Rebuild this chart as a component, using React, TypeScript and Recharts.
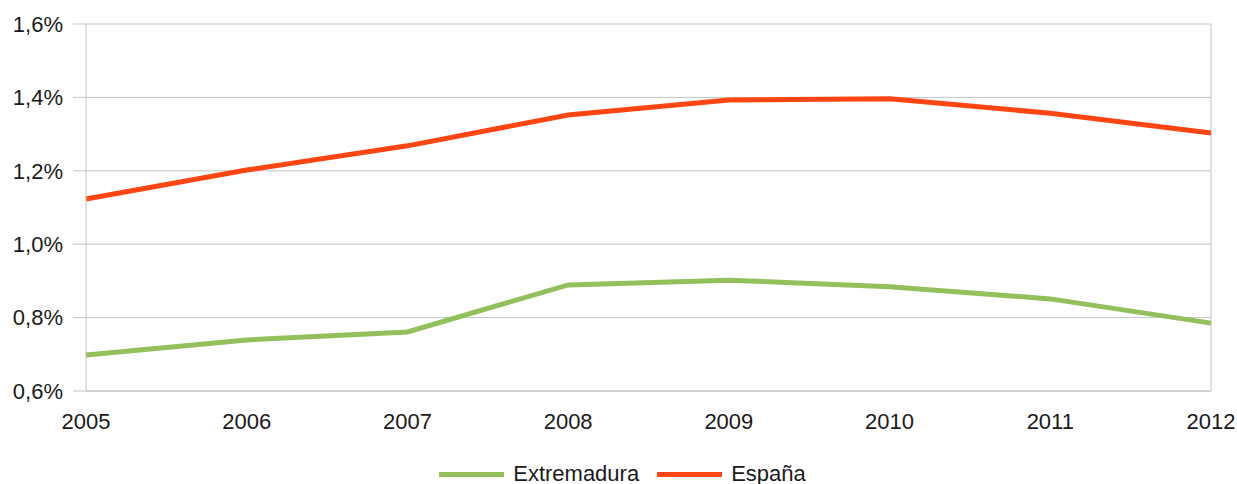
import React from 'react';
import { LineChart, Line, XAxis, YAxis, CartesianGrid, Legend, ReferenceLine } from 'recharts';

const years = ['2005', '2006', '2007', '2008', '2009', '2010', '2011', '2012'];
const extremadura = [0.698, 0.739, 0.761, 0.889, 0.902, 0.884, 0.851, 0.785];
const espana = [1.123, 1.202, 1.268, 1.352, 1.393, 1.396, 1.357, 1.303];
const yTicks = [0.6, 0.8, 1.0, 1.2, 1.4, 1.6];

const seriesNames = ['Extremadura', 'España'];
const seriesColors = ['#94bf5d', '#ff4512'];

const data = years.map((y, i) => ({ year: y, Extremadura: extremadura[i], 'España': espana[i] }));

const FONT = '"Liberation Sans", Arial, sans-serif';
const GRID = '#c4c4c4';

const fmt = (v: number) => v.toFixed(1).replace('.', ',') + '%';

const LegendContent = () => (
  <div style={{ display: 'flex', justifyContent: 'center', alignItems: 'center', height: 20, lineHeight: '20px', fontFamily: FONT, fontSize: 22, color: '#1a1a1a' }}>
    {seriesNames.map((n, i) => (
      <div key={n} style={{ display: 'flex', alignItems: 'center', marginRight: i === 0 ? 18 : 0 }}>
        <div style={{ width: 65, height: 5, background: seriesColors[i], marginRight: 9 }} />
        <span>{n}</span>
      </div>
    ))}
  </div>
);

export default function App() {
  return (
    <div style={{ position: 'absolute', left: 0, top: 0, background: '#fff' }}>
      <LineChart width={1237} height={484} data={data} margin={{ top: 24, right: 26, bottom: 0, left: 0 }}>
        <CartesianGrid vertical={false} stroke={GRID} strokeWidth={1} />
        <XAxis
          dataKey="year"
          type="category"
          stroke={GRID}
          tickLine={false}
          tickSize={0}
          tickMargin={22}
          height={73}
          interval={0}
          tick={{ fill: '#1a1a1a', fontSize: 22, fontFamily: FONT }}
        />
        <YAxis
          domain={[0.6, 1.6]}
          ticks={yTicks}
          tickFormatter={fmt}
          width={86}
          stroke={GRID}
          tickSize={13}
          tickMargin={10}
          interval={0}
          tick={{ fill: '#1a1a1a', fontSize: 22, fontFamily: FONT }}
        />
        <ReferenceLine x="2012" stroke={GRID} strokeWidth={1} />
        <Legend verticalAlign="bottom" content={<LegendContent />} wrapperStyle={{ bottom: 0, left: 4, width: 1237, height: 20 }} />
        <Line type="linear" dataKey="Extremadura" stroke={seriesColors[0]} strokeWidth={5} dot={false} isAnimationActive={false} />
        <Line type="linear" dataKey="España" stroke={seriesColors[1]} strokeWidth={5} dot={false} isAnimationActive={false} />
      </LineChart>
    </div>
  );
}
